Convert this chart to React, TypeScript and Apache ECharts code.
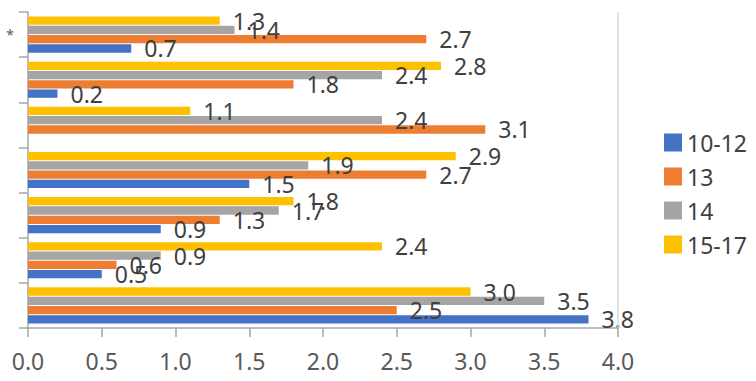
import React, { useEffect, useRef } from "react";
import * as echarts from "echarts";

// categories from bottom to top
const categories = ["", "", "", "", "", "", "*"];
const seriesNames = ["10-12", "13", "14", "15-17"];
const colors = ["#4472C4", "#ED7D31", "#A5A5A5", "#FFC000"];
const values1012: (number | null)[] = [3.8, 0.5, 0.9, 1.5, null, 0.2, 0.7];
const values13: (number | null)[] = [2.5, 0.6, 1.3, 2.7, 3.1, 1.8, 2.7];
const values14: (number | null)[] = [3.5, 0.9, 1.7, 1.9, 2.4, 2.4, 1.4];
const values1517: (number | null)[] = [3.0, 2.4, 1.8, 2.9, 1.1, 2.8, 1.3];
const xTicks = { min: 0, max: 4, interval: 0.5 };

const FONT = "Noto Sans";

export default function App() {
  const ref = useRef<HTMLDivElement>(null);
  useEffect(() => {
    if (!ref.current) return;
    const chart = echarts.init(ref.current, undefined, { renderer: "svg" });
    const allValues = [values1012, values13, values14, values1517];
    const series: any[] = allValues
      .map((vals, i) => ({
        name: seriesNames[i],
        type: "bar",
        data: vals,
        itemStyle: { color: colors[i] },
        barCategoryGap: "20%",
        barGap: "12%",
        label: {
          show: true,
          position: "right",
          distance: 13,
          fontFamily: FONT,
          fontSize: 23,
          color: "#404040",
          formatter: (p: any) => (p.value == null ? "" : Number(p.value).toFixed(1)),
        },
        ...(i === 0
          ? {
              markLine: {
                silent: true,
                symbol: "none",
                label: { show: false },
                lineStyle: { color: "#d9d9d9", type: "solid", width: 1.5 },
                data: [{ xAxis: xTicks.max }],
              },
            }
          : {}),
      }))
      .reverse();
    chart.setOption({
      animation: false,
      textStyle: { fontFamily: FONT },
      grid: { left: 28, right: 138, top: 12, bottom: 53, containLabel: false },
      legend: {
        orient: "vertical",
        left: 659,
        top: 126,
        icon: "rect",
        itemWidth: 18,
        itemHeight: 18,
        itemGap: 11,
        data: seriesNames,
        textStyle: { fontFamily: FONT, fontSize: 23, color: "#404040" },
      },
      xAxis: {
        type: "value",
        min: xTicks.min,
        max: xTicks.max,
        interval: xTicks.interval,
        splitLine: { show: false },
        axisLine: { show: true, lineStyle: { color: "#a6a6a6", width: 1.5 } },
        axisTick: { show: true, length: 9, lineStyle: { color: "#a6a6a6", width: 1.5 } },
        axisLabel: {
          fontFamily: FONT,
          fontSize: 23,
          color: "#595959",
          margin: 21,
          formatter: (v: number) => v.toFixed(1),
        },
      },
      yAxis: {
        type: "category",
        data: categories,
        axisLine: { show: true, lineStyle: { color: "#a6a6a6", width: 1.5 } },
        axisTick: { show: true, length: 9, lineStyle: { color: "#a6a6a6", width: 1.5 } },
        axisLabel: {
          fontFamily: FONT,
          fontSize: 14,
          color: "#595959",
          margin: 14,
          padding: [0, 0, 8, 0],
        },
      },
      series,
    });
    return () => chart.dispose();
  }, []);
  return <div ref={ref} style={{ width: 756, height: 381, position: "absolute", left: 0, top: 0 }} />;
}
